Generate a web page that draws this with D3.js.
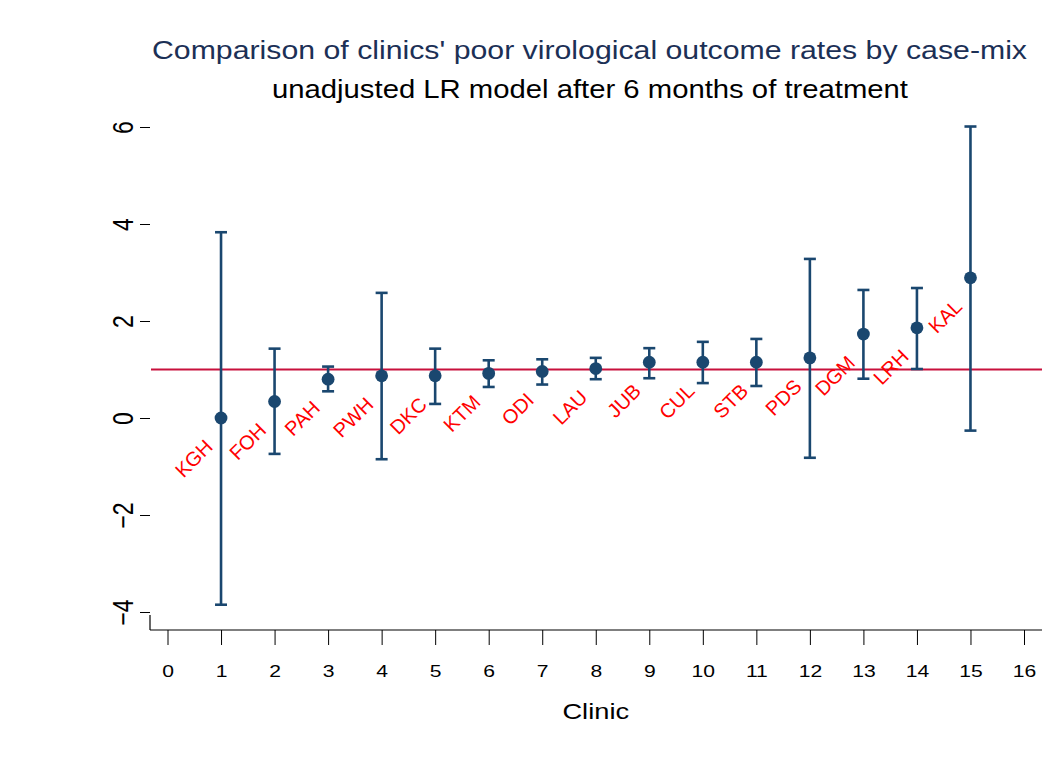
<!DOCTYPE html>
<html>
<head>
<meta charset="utf-8">
<script src="https://d3js.org/d3.v7.min.js"></script>
<style>
  html, body { margin: 0; padding: 0; background: #fff; }
  svg { display: block; font-family: Arial, "Liberation Sans", Helvetica, sans-serif; }
</style>
</head>
<body>
<svg id="chart" width="1057" height="767"></svg>
<script>
// Clinic position, name, odds-ratio estimate and its confidence interval
const clinicIndex = [1, 2, 3, 4, 5, 6, 7, 8, 9, 10, 11, 12, 13, 14, 15];
const clinicNames = ["KGH", "FOH", "PAH", "PWH", "DKC", "KTM", "ODI", "LAU", "JUB", "CUL", "STB", "PDS", "DGM", "LRH", "KAL"];
const estimate = [0.00, 0.34, 0.80, 0.87, 0.87, 0.92, 0.96, 1.02, 1.15, 1.15, 1.15, 1.24, 1.73, 1.86, 2.89];
const upperCI  = [3.83, 1.43, 1.06, 2.58, 1.43, 1.19, 1.21, 1.24, 1.44, 1.57, 1.63, 3.28, 2.64, 2.68, 6.01];
const lowerCI  = [-3.85, -0.74, 0.55, -0.85, 0.29, 0.64, 0.69, 0.80, 0.82, 0.72, 0.66, -0.82, 0.81, 1.01, -0.26];
const xTicks = d3.range(0, 17);
const yTicks = [-4, -2, 0, 2, 4, 6];
const referenceValue = 1;

const svg = d3.select("#chart");
const navy = "#1a476f";
const red = "#ff0000";
const wide = "scale(1.24,1)"; // wide-set lettering for horizontal text

const x = d3.scaleLinear().domain([0, 16]).range([167.5, 1024]);
const y = d3.scaleLinear().domain([0, 6]).range([418, 127]);

const plotLeft = 150, plotRight = 1042, plotBottom = 630;

// Titles
svg.append("text")
  .attr("x", 589.5).attr("y", 59)
  .attr("text-anchor", "middle")
  .attr("font-size", 25)
  .attr("textLength", 875)
  .attr("lengthAdjust", "spacingAndGlyphs")
  .attr("fill", "#1c3056")
  .text("Comparison of clinics' poor virological outcome rates by case-mix");
svg.append("text")
  .attr("x", 590).attr("y", 98)
  .attr("text-anchor", "middle")
  .attr("font-size", 25)
  .attr("textLength", 636)
  .attr("lengthAdjust", "spacingAndGlyphs")
  .attr("fill", "#000")
  .text("unadjusted LR model after 6 months of treatment");

// Y axis
const yAxis = d3.axisLeft(y).tickValues(yTicks).tickSize(10).tickPadding(14).tickFormat(d3.format("d"));
const gy = svg.append("g").attr("transform", `translate(${plotLeft},0)`).call(yAxis);
gy.select(".domain").remove();
gy.selectAll(".tick line").attr("stroke", "#000").attr("stroke-width", 1);
gy.selectAll(".tick text")
  .attr("font-size", 23)
  .attr("fill", "#000")
  .attr("text-anchor", "middle")
  .attr("dy", null)
  .attr("x", null)
  .attr("transform", "translate(-17,0) scale(1.25,1) rotate(-90)");
svg.append("line")
  .attr("x1", plotLeft).attr("x2", plotLeft)
  .attr("y1", y(-4) + 3).attr("y2", plotBottom)
  .attr("stroke", "#000").attr("stroke-width", 1.2);

// X axis
const xAxis = d3.axisBottom(x).tickValues(xTicks).tickSize(15).tickPadding(20).tickFormat(d3.format("d"));
const gx = svg.append("g").attr("transform", `translate(0,${plotBottom})`).call(xAxis);
gx.select(".domain").remove();
gx.selectAll(".tick line").attr("stroke", "#000").attr("stroke-width", 1);
gx.selectAll(".tick text").attr("font-size", 16.5).attr("fill", "#000").attr("transform", "scale(1.28,1)");
svg.append("line")
  .attr("x1", plotLeft).attr("x2", plotRight)
  .attr("y1", plotBottom).attr("y2", plotBottom)
  .attr("stroke", "#000").attr("stroke-width", 1.2);

svg.append("text")
  .attr("transform", `translate(${x(8)},719) ${wide}`)
  .attr("text-anchor", "middle")
  .attr("font-size", 22)
  .attr("fill", "#000")
  .text("Clinic");

// Reference line
svg.append("line")
  .attr("x1", plotLeft + 1).attr("x2", plotRight)
  .attr("y1", y(referenceValue)).attr("y2", y(referenceValue))
  .attr("stroke", "#c8103c").attr("stroke-width", 2.2);

const rows = clinicIndex.map((c, i) => ({
  c, name: clinicNames[i], est: estimate[i], hi: upperCI[i], lo: lowerCI[i]
}));

// Confidence interval bars with caps
const bars = svg.append("g").attr("stroke", navy).attr("stroke-width", 2.6).attr("fill", "none");
rows.forEach(d => {
  bars.append("line").attr("x1", x(d.c)).attr("x2", x(d.c)).attr("y1", y(d.hi)).attr("y2", y(d.lo));
  bars.append("line").attr("x1", x(d.c) - 6).attr("x2", x(d.c) + 6).attr("y1", y(d.hi)).attr("y2", y(d.hi));
  bars.append("line").attr("x1", x(d.c) - 6).attr("x2", x(d.c) + 6).attr("y1", y(d.lo)).attr("y2", y(d.lo));
});

// Point estimates
svg.append("g").selectAll("circle").data(rows).join("circle")
  .attr("cx", d => x(d.c)).attr("cy", d => y(d.est))
  .attr("r", 6.4).attr("fill", navy);

// Clinic name labels, angled below-left of each marker
svg.append("g").selectAll("text").data(rows).join("text")
  .attr("transform", d => `translate(${x(d.c) - 7},${y(d.est) + 30}) rotate(-45)`)
  .attr("text-anchor", "end")
  .attr("font-size", 20)
  .attr("fill", red)
  .text(d => d.name);
</script>
</body>
</html>
